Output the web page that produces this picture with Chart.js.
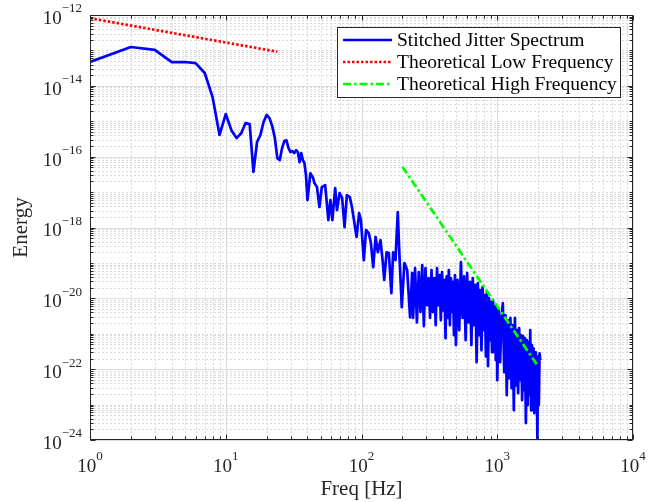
<!DOCTYPE html>
<html>
<head>
<meta charset="utf-8">
<script src="https://cdn.jsdelivr.net/npm/chart.js@4.4.0/dist/chart.umd.min.js"></script>
<style>
html,body{margin:0;padding:0;background:#fff;}
#wrap{width:652px;height:502px;position:relative;}
</style>
</head>
<body>
<div id="wrap"><canvas id="c" width="652" height="502"></canvas></div>
<script>
// ---- Data ----
// Stitched Jitter Spectrum (blue), in pieces
const freqA = [1,2,3,4,5,6,7,8,9,10,11,12,13,14,15,16,17,18,19,20,21,22,23,24,25,26,27,28,29,30,31,32,33,34,35,36,37,38,39,40];
const energyA = [4.7e-14,1.25e-13,1.03e-13,4.7e-14,4.7e-14,4.4e-14,2.3e-14,4.8e-15,4.1e-16,1.6e-15,5.6e-16,3.35e-16,4.6e-16,8.9e-16,8.3e-16,3.7e-17,2.6e-16,4.1e-16,9.5e-16,1.5e-15,1.23e-15,7.3e-16,3.35e-16,9.1e-17,8.0e-17,1.75e-16,2.75e-16,2.9e-16,1.75e-16,1.35e-16,1.44e-16,1.26e-16,1.53e-16,1.35e-16,7.0e-17,1.26e-16,8.0e-17,6.6e-17,3.0e-17,5.9e-18];

const freqB = [42,44,45,47,49,51,54,57,59,61,64,66,69,72,75,78,82,85,88,92,96,99,104,108,113,117,122,127,132,138,143,147,153,159,166,171,178,185,190,198,207,217,228,236];
const energyB = [3.4e-17,2.5e-17,1.8e-17,1.38e-17,3.8e-18,1.38e-17,1.58e-17,1.62e-18,5.9e-18,1.62e-18,1.3e-17,3.1e-18,9.4e-18,6.8e-18,1.03e-18,8.2e-18,7.2e-18,3.8e-18,1.62e-18,5.4e-19,2.55e-18,1.62e-18,1.2e-19,8.5e-19,6.95e-19,3.9e-19,7.6e-20,5.4e-19,2.0e-19,4.4e-19,1.2e-19,3.3e-20,2.0e-19,1.9e-19,1.4e-20,2.0e-19,1.2e-19,2.7e-18,1.9e-19,5.6e-21,9.9e-20,6.3e-20,2.9e-21,5.2e-20];

const freqC = [240,248,256,264,272,280,288,296,304,312,320,328,336,344,352,360,368,376,384,392,400,408,416,424,432,440,448,456,464,472,480,488,496];
const energyC = [2.8e-21,7.1e-20,2.1e-21,5.5e-20,4.1e-21,8.7e-20,1.64e-21,7.1e-20,6.4e-21,3.7e-20,2.8e-21,6.3e-20,4.1e-21,3.7e-20,1.75e-21,7.1e-20,6.4e-21,4.5e-20,2.4e-21,5.5e-20,4.6e-21,3.3e-20,7.5e-22,4.2e-20,2.8e-21,6.3e-20,1.75e-21,3.7e-20,4.1e-21,2.9e-20,9.1e-22,4.5e-20,4.8e-22];

const freqD = [510,525,540,555,570,585,600,615,630,645,660,675,690,705,720,735,750,765,780,795,810,825,840,855,870,885,900,915,930,945,960,975,990];
const energyD = [3.3e-20,1.26e-21,1.05e-19,2.8e-21,4.2e-20,6.6e-22,5.2e-20,2.1e-21,2.9e-20,4.8e-22,3.7e-20,1.75e-21,2.4e-20,1.58e-22,2.7e-20,9.1e-22,1.7e-20,3.4e-22,2.1e-20,1.26e-21,1.23e-20,2.3e-22,1.5e-20,1.22e-22,1.01e-20,6.6e-22,7.8e-21,3.0e-22,8.9e-21,7.5e-22,6.0e-21,1.8e-22,5.3e-21];

const freqE = [1000,1025,1050,1075,1100,1125,1150,1175,1200,1225,1250,1275,1300,1325,1350,1375,1400,1425,1450,1475,1500,1525,1550,1575,1600,1625,1650,1675,1700,1725,1750,1775,1800,1825,1850,1875,1900,1925,1950,1975,2000,2025,2050,2075];
const energyE = [4.9e-23,4.6e-21,1.58e-22,2.8e-21,7.3e-21,8.2e-23,3.35e-21,1.85e-23,2.4e-21,5.6e-23,2.8e-21,2.9e-23,1.75e-21,6.9e-24,2.8e-21,3.5e-23,1.26e-21,2.1e-23,1.44e-21,4.9e-23,9.1e-22,1.33e-23,8.6e-22,2.55e-23,7.5e-22,3.0e-24,6.6e-22,9.6e-24,5.8e-22,1.85e-23,1.26e-21,6.9e-24,4.8e-22,1.5e-23,3.9e-22,5.7e-24,3.0e-22,1.33e-23,1.58e-22,1.12e-24,2.3e-22,9.6e-24,2.8e-22,1.8e-22];

// Theoretical Low Frequency (red dotted)
const lowFreqX = [1, 24];
const lowFreqY = [8.1e-13, 9.2e-14];

// Theoretical High Frequency (green dash-dot)
const highFreqX = [200, 2000];
const highFreqY = [5.2e-17, 1.2e-22];

// Axis ticks
const xTickExps = [0, 1, 2, 3, 4];
const yTickExps = [-12, -14, -16, -18, -20, -22, -24];

const seriesNames = ['Stitched Jitter Spectrum', 'Theoretical Low Frequency', 'Theoretical High Frequency'];
const xLabel = 'Freq [Hz]';
const yLabel = 'Energy';

// ---- Build point tables ----
function pts(xs, ys) { return xs.map((x, i) => ({ x: x, y: ys[i] })); }
const stitched = [].concat(pts(freqA, energyA), pts(freqB, energyB), pts(freqC, energyC), pts(freqD, energyD), pts(freqE, energyE));

const BLUE = '#0000ff', RED = '#ff0000', GREEN = '#00ff00';
const AX = '#262626';
const SERIF = '"Liberation Serif", "Times New Roman", serif';
const LW = 2.7;
const styles = [
  { color: BLUE, width: LW, dash: [] },
  { color: RED, width: LW, dash: [2.5, 2] },
  { color: GREEN, width: LW, dash: [8, 3, 2.5, 3] }
];

function crisp(v) { return Math.round(v) + 0.5; }

const matlabAxes = {
  id: 'matlabAxes',
  beforeDatasetsDraw(chart) {
    const ctx = chart.ctx, a = chart.chartArea, xs = chart.scales.x, ys = chart.scales.y;
    ctx.save();
    ctx.lineWidth = 1;
    // minor grid
    ctx.strokeStyle = '#dadada';
    ctx.setLineDash([2, 2]);
    for (let n = 0; n < 4; n++) for (let m = 2; m <= 9; m++) {
      const x = crisp(xs.getPixelForValue(m * Math.pow(10, n)));
      ctx.beginPath(); ctx.moveTo(x, a.top); ctx.lineTo(x, a.bottom); ctx.stroke();
    }
    for (let n = -24; n < -12; n++) for (let m = 1; m <= 9; m++) {
      if (m === 1 && n % 2 === 0) continue;
      const y = crisp(ys.getPixelForValue(m * Math.pow(10, n)));
      ctx.beginPath(); ctx.moveTo(a.left, y); ctx.lineTo(a.right, y); ctx.stroke();
    }
    // major grid
    ctx.setLineDash([]);
    ctx.strokeStyle = '#dcdcdc';
    xTickExps.forEach(e => {
      const x = crisp(xs.getPixelForValue(Math.pow(10, e)));
      ctx.beginPath(); ctx.moveTo(x, a.top); ctx.lineTo(x, a.bottom); ctx.stroke();
    });
    yTickExps.forEach(e => {
      const y = crisp(ys.getPixelForValue(Math.pow(10, e)));
      ctx.beginPath(); ctx.moveTo(a.left, y); ctx.lineTo(a.right, y); ctx.stroke();
    });
    ctx.restore();
  },
  afterDatasetsDraw(chart) {
    const ctx = chart.ctx, a = chart.chartArea, xs = chart.scales.x, ys = chart.scales.y;
    const L = crisp(a.left), R = crisp(a.right - 1), T = crisp(a.top), B = crisp(a.bottom - 1);
    ctx.save();
    ctx.strokeStyle = AX; ctx.lineWidth = 1; ctx.setLineDash([]);
    ctx.strokeRect(L, T, R - L, B - T);
    // ticks (inside, all four sides)
    function xt(v, len) {
      const x = crisp(xs.getPixelForValue(v));
      ctx.beginPath(); ctx.moveTo(x, B); ctx.lineTo(x, B - len); ctx.moveTo(x, T); ctx.lineTo(x, T + len); ctx.stroke();
    }
    function yt(v, len) {
      const y = crisp(ys.getPixelForValue(v));
      ctx.beginPath(); ctx.moveTo(L, y); ctx.lineTo(L + len, y); ctx.moveTo(R, y); ctx.lineTo(R - len, y); ctx.stroke();
    }
    for (let n = 0; n < 4; n++) for (let m = 2; m <= 9; m++) xt(m * Math.pow(10, n), 3);
    xTickExps.forEach(e => xt(Math.pow(10, e), 5));
    for (let n = -24; n < -12; n++) for (let m = 1; m <= 9; m++) {
      if (m === 1 && n % 2 === 0) continue;
      yt(m * Math.pow(10, n), 3);
    }
    yTickExps.forEach(e => yt(Math.pow(10, e), 5));

    // tick labels
    ctx.fillStyle = AX;
    ctx.textBaseline = 'middle';
    const baseFont = '19px ' + SERIF, expFont = '13px ' + SERIF;
    function expStr(e) { return e < 0 ? '\u2212' + Math.abs(e) : String(e); }
    yTickExps.forEach(e => {
      const y = ys.getPixelForValue(Math.pow(10, e));
      const s = expStr(e);
      ctx.font = expFont; const wE = ctx.measureText(s).width;
      ctx.font = baseFont; const w10 = ctx.measureText('10').width;
      const right = a.left - 8;
      ctx.textAlign = 'left';
      ctx.font = baseFont; ctx.fillText('10', right - wE - w10, y + 4);
      ctx.font = expFont; ctx.fillText(s, right - wE, y - 6);
    });
    xTickExps.forEach(e => {
      const x = xs.getPixelForValue(Math.pow(10, e));
      const s = expStr(e);
      ctx.font = expFont; const wE = ctx.measureText(s).width;
      ctx.font = baseFont; const w10 = ctx.measureText('10').width;
      const start = x - (w10 + wE) / 2;
      ctx.textAlign = 'left';
      ctx.font = baseFont; ctx.fillText('10', start, a.bottom + 27);
      ctx.font = expFont; ctx.fillText(s, start + w10, a.bottom + 17);
    });

    // axis labels
    ctx.font = '21px ' + SERIF;
    ctx.textAlign = 'center';
    ctx.fillText(xLabel, (a.left + a.right) / 2, a.bottom + 49);
    ctx.save();
    ctx.translate(21, (a.top + a.bottom) / 2);
    ctx.rotate(-Math.PI / 2);
    ctx.fillText(yLabel, 0, 0);
    ctx.restore();

    // legend
    const lx = 337.5, ly = 27.5, lw = 283, lh = 70;
    ctx.fillStyle = '#ffffff';
    ctx.fillRect(lx, ly, lw, lh);
    ctx.strokeStyle = AX; ctx.lineWidth = 1;
    ctx.strokeRect(lx, ly, lw, lh);
    const rows = [40, 62, 84];
    ctx.font = '19.5px ' + SERIF;
    ctx.textAlign = 'left';
    ctx.textBaseline = 'middle';
    seriesNames.forEach((name, i) => {
      const st = styles[i];
      ctx.strokeStyle = st.color; ctx.lineWidth = st.width; ctx.setLineDash(st.dash);
      ctx.beginPath(); ctx.moveTo(343, rows[i]); ctx.lineTo(392, rows[i]); ctx.stroke();
      ctx.setLineDash([]);
      ctx.fillStyle = '#000000';
      ctx.fillText(name, 397, rows[i] + 1);
    });
    ctx.restore();
  }
};

new Chart(document.getElementById('c'), {
  type: 'scatter',
  data: {
    datasets: [
      { label: seriesNames[0], data: stitched, showLine: true, borderColor: BLUE, backgroundColor: BLUE,
        borderWidth: styles[0].width, pointRadius: 0, borderJoinStyle: 'round', order: 3, tension: 0 },
      { label: seriesNames[1], data: pts(lowFreqX, lowFreqY), showLine: true, borderColor: RED, backgroundColor: RED,
        borderWidth: styles[1].width, borderDash: styles[1].dash, pointRadius: 0, order: 2 },
      { label: seriesNames[2], data: pts(highFreqX, highFreqY), showLine: true, borderColor: GREEN, backgroundColor: GREEN,
        borderWidth: styles[2].width, borderDash: styles[2].dash, pointRadius: 0, order: 1 }
    ]
  },
  options: {
    responsive: false,
    devicePixelRatio: 1,
    animation: false,
    layout: { padding: { left: 90, top: 15, right: 19, bottom: 62 } },
    plugins: { legend: { display: false }, tooltip: { enabled: false } },
    scales: {
      x: { type: 'logarithmic', min: 1, max: 10000, display: false },
      y: { type: 'logarithmic', min: 1e-24, max: 1e-12, display: false }
    }
  },
  plugins: [matlabAxes]
});
</script>
</body>
</html>
